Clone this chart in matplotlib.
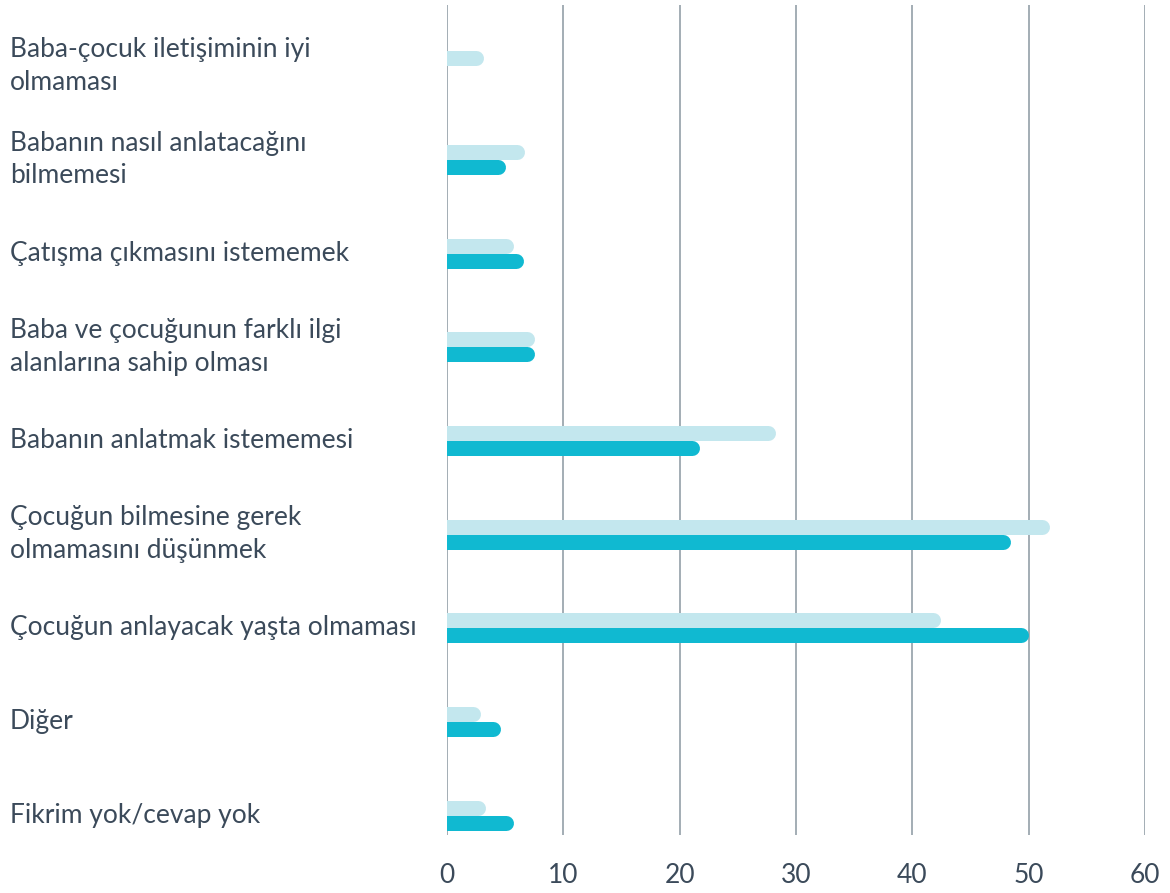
import numpy as np
import matplotlib
matplotlib.use("Agg")
import matplotlib.pyplot as plt
import matplotlib.transforms as mtransforms

plt.rcParams['font.family'] = ['Lato', 'DejaVu Sans']

# categories (top to bottom)
categories = [
    "Baba-çocuk iletişiminin iyi\nolmaması",
    "Babanın nasıl anlatacağını\nbilmemesi",
    "Çatışma çıkmasını istememek",
    "Baba ve çocuğunun farklı ilgi\nalanlarına sahip olması",
    "Babanın anlatmak istememesi",
    "Çocuğun bilmesine gerek\nolmamasını düşünmek",
    "Çocuğun anlayacak yaşta olmaması",
    "Diğer",
    "Fikrim yok/cevap yok",
]
# light series (upper bar) and dark series (lower bar), %
light_vals = [3.1, 6.7, 5.7, 7.5, 28.2, 51.8, 42.4, 2.9, 3.3]
dark_vals = [0.0, 5.0, 6.6, 7.5, 21.7, 48.4, 50.0, 4.6, 5.7]
xticks = [0, 10, 20, 30, 40, 50, 60]

light_col = '#c3e7ee'
dark_col = '#10b9d1'
grid_col = '#9ca7af'
text_col = '#3b4a5a'

fig = plt.figure(figsize=(11.7, 8.93), dpi=100)
ax = fig.add_axes([447/1170, 1 - 835/893, (1145 - 447)/1170, (835 - 5)/893])

n = len(categories)
ax.set_xlim(0, 60)
ax.set_ylim(n - 1 + 0.21, -0.65)

for s in ax.spines.values():
    s.set_visible(False)
ax.set_yticks([])
ax.set_xticks(xticks)
ax.set_xticklabels([str(t) for t in xticks], fontsize=19, color=text_col)
ax.tick_params(axis='x', length=0, pad=20)
for t in xticks:
    ax.axvline(t, color=grid_col, lw=1.3, zorder=0)

bar_px = 15
lw_pt = bar_px * 72 / fig.dpi
# cap radius in data units
ax_w_px = ax.get_position().width * fig.get_figwidth() * fig.dpi
r_data = (bar_px / 2) * 60 / ax_w_px
ax_h_px = ax.get_position().height * fig.get_figheight() * fig.dpi
off = (bar_px / 2) * (n - 1 + 0.86) / ax_h_px

y = np.arange(n)
for i in range(n):
    for val, col, dy in [(light_vals[i], light_col, -off), (dark_vals[i], dark_col, off)]:
        if val <= 0:
            continue
        ax.plot([-5, max(val - r_data, 0)], [y[i] + dy, y[i] + dy], color=col,
                lw=lw_pt, solid_capstyle='round', zorder=2)

trans = mtransforms.blended_transform_factory(fig.transFigure, ax.transData)
for i, lab in enumerate(categories):
    ax.text(10/1170, y[i], lab, transform=trans, ha='left', va='center',
            fontsize=19, color=text_col, linespacing=1.38, clip_on=False)

fig.savefig('out.png', dpi=100)
